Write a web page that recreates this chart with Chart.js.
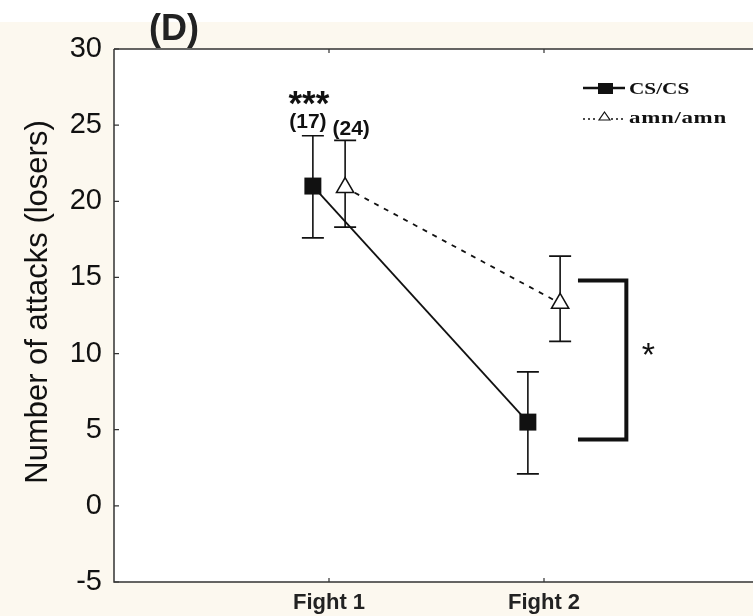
<!DOCTYPE html>
<html><head><meta charset="utf-8">
<script src="https://cdn.jsdelivr.net/npm/chart.js@4.4.1/dist/chart.umd.min.js"></script>
<style>html,body{margin:0;padding:0;overflow:hidden;background:#fcf8ef;width:753px;height:616px}canvas{display:block}</style>
</head><body><canvas id="c" width="775" height="616"></canvas>
<script>
// ---- data ----
const categories = ['Fight 1', 'Fight 2'];
const seriesNames = ['CS/CS', 'amn/amn'];
const csMean  = [21.0, 5.5];
const csUpper = [24.3, 8.8];
const csLower = [17.6, 2.1];
const amnMean  = [20.9, 13.3];
const amnUpper = [24.0, 16.4];
const amnLower = [18.3, 10.8];
const yTicks = [-5, 0, 5, 10, 15, 20, 25, 30];
const sampleSizes = ['(17)', '(24)'];
const sigFight1 = '***';
const sigBetween = '*';
const bracketRange = [4.35, 14.8];
const panelLabel = '(D)';
const yTitle = 'Number of attacks (losers)';

// ---- style ----
const CREAM = '#fcf8ef';
const INK = '#111111';
const OFFSET = 0.075;
const BRACKET_X = [2.158, 2.383];
const SANS = '"Liberation Sans", Arial, sans-serif';
const SERIF = '"Liberation Serif", "Times New Roman", serif';

const series = [
  {mean: csMean, up: csUpper, lo: csLower, off: -OFFSET},
  {mean: amnMean, up: amnUpper, lo: amnLower, off: OFFSET}
];

function pts(s) { return s.mean.map((v, i) => ({x: i + 1 + s.off, y: v})); }

const deco = {
  id: 'deco',
  beforeDraw(chart) {
    const {ctx, chartArea: a} = chart;
    ctx.save();
    ctx.fillStyle = CREAM; ctx.fillRect(0, 0, chart.width, chart.height);
    ctx.fillStyle = '#ffffff'; ctx.fillRect(0, 0, chart.width, 22);
    ctx.fillRect(a.left, a.top, a.right - a.left, a.bottom - a.top);
    ctx.restore();
  },
  beforeDatasetsDraw(chart) {
    const {ctx} = chart, xs = chart.scales.x, ys = chart.scales.y;
    ctx.save();
    ctx.strokeStyle = INK; ctx.lineWidth = 1.6;
    series.forEach(s => {
      s.mean.forEach((m, i) => {
        const x = xs.getPixelForValue(i + 1 + s.off);
        const yh = ys.getPixelForValue(s.up[i]), yl = ys.getPixelForValue(s.lo[i]);
        ctx.beginPath();
        ctx.moveTo(x, yh); ctx.lineTo(x, yl);
        ctx.moveTo(x - 11, yh); ctx.lineTo(x + 11, yh);
        ctx.moveTo(x - 11, yl); ctx.lineTo(x + 11, yl);
        ctx.stroke();
      });
    });
    ctx.restore();
  },
  afterDraw(chart) {
    const {ctx, chartArea: a} = chart, xs = chart.scales.x, ys = chart.scales.y;
    ctx.save();
    // frame
    ctx.strokeStyle = '#333333'; ctx.lineWidth = 1.5;
    ctx.beginPath();
    ctx.moveTo(a.left, a.top); ctx.lineTo(a.left, a.bottom); ctx.lineTo(a.right, a.bottom);
    ctx.moveTo(a.left, a.top); ctx.lineTo(a.right, a.top);
    ctx.stroke();
    // inward ticks
    ctx.lineWidth = 1.2;
    ctx.beginPath();
    yTicks.forEach(v => { const y = ys.getPixelForValue(v); ctx.moveTo(a.left, y); ctx.lineTo(a.left + 5, y); });
    categories.forEach((c, i) => {
      const x = xs.getPixelForValue(i + 1);
      ctx.moveTo(x, a.bottom); ctx.lineTo(x, a.bottom - 4);
      ctx.moveTo(x, a.top); ctx.lineTo(x, a.top + 4);
    });
    ctx.stroke();

    // panel label
    ctx.fillStyle = '#222222';
    ctx.font = 'bold 36px ' + SANS;
    ctx.textAlign = 'center'; ctx.textBaseline = 'alphabetic';
    ctx.fillText(panelLabel, 174, 40);

    // y title
    ctx.save();
    ctx.translate(38, 302); ctx.rotate(-Math.PI / 2);
    ctx.font = '31px ' + SANS; ctx.fillStyle = INK;
    ctx.textAlign = 'center'; ctx.textBaseline = 'middle';
    ctx.fillText(yTitle, 0, 0);
    ctx.restore();

    // significance and n labels
    ctx.fillStyle = INK;
    ctx.font = 'bold 35px ' + SANS;
    ctx.textAlign = 'center'; ctx.textBaseline = 'alphabetic';
    ctx.fillText(sigFight1, xs.getPixelForValue(1 + series[0].off) - 4, 115);
    ctx.font = 'bold 21px ' + SANS;
    ctx.fillText(sampleSizes[0], xs.getPixelForValue(1 + series[0].off) - 5, 128);
    ctx.fillText(sampleSizes[1], xs.getPixelForValue(1 + series[1].off) + 6, 135);

    // bracket
    const bx0 = xs.getPixelForValue(BRACKET_X[0]), bx1 = xs.getPixelForValue(BRACKET_X[1]);
    const by0 = ys.getPixelForValue(bracketRange[1]), by1 = ys.getPixelForValue(bracketRange[0]);
    ctx.strokeStyle = INK; ctx.lineWidth = 4; ctx.lineJoin = 'miter';
    ctx.beginPath();
    ctx.moveTo(bx0, by0); ctx.lineTo(bx1, by0); ctx.lineTo(bx1, by1); ctx.lineTo(bx0, by1);
    ctx.stroke();
    ctx.font = '34px ' + SANS; ctx.textAlign = 'center';
    ctx.fillText(sigBetween, bx1 + 22, (by0 + by1) / 2 + 6);

    // legend
    ctx.strokeStyle = INK; ctx.fillStyle = INK;
    ctx.lineWidth = 2.5;
    ctx.beginPath(); ctx.moveTo(583, 88); ctx.lineTo(625, 88); ctx.stroke();
    ctx.fillRect(598, 83, 15, 11);
    // dotted line + triangle
    ctx.lineWidth = 1.5;
    ctx.setLineDash([2, 3]);
    ctx.beginPath(); ctx.moveTo(583, 119); ctx.lineTo(598, 119); ctx.moveTo(611, 119); ctx.lineTo(626, 119); ctx.stroke();
    ctx.setLineDash([]);
    ctx.lineWidth = 1.2;
    ctx.beginPath(); ctx.moveTo(604.5, 112); ctx.lineTo(610, 120); ctx.lineTo(599, 120); ctx.closePath(); ctx.stroke();
    ctx.font = 'bold 17px ' + SERIF;
    ctx.textAlign = 'left'; ctx.textBaseline = 'alphabetic';
    ctx.save(); ctx.translate(629, 94); ctx.scale(1.25, 1); ctx.fillText(seriesNames[0], 0, 0); ctx.restore();
    ctx.save(); ctx.letterSpacing = '0.5px'; ctx.translate(629, 123); ctx.scale(1.35, 1); ctx.fillText(seriesNames[1], 0, 0); ctx.restore();
    ctx.restore();
  }
};

new Chart(document.getElementById('c'), {
  type: 'scatter',
  data: {
    datasets: [
      {
        label: seriesNames[0], data: pts(series[0]), showLine: true,
        borderColor: INK, borderWidth: 1.8, backgroundColor: INK,
        pointStyle: 'rect', pointRadius: 12, pointBackgroundColor: INK, pointBorderColor: INK, pointBorderWidth: 0
      },
      {
        label: seriesNames[1], data: pts(series[1]), showLine: true,
        borderColor: INK, borderWidth: 1.8, borderDash: [5, 6], backgroundColor: '#ffffff',
        pointStyle: 'triangle', pointRadius: 10, pointBackgroundColor: '#ffffff', pointBorderColor: INK, pointBorderWidth: 1.5
      }
    ]
  },
  options: {
    responsive: false, animation: false,
    layout: {padding: {top: 49, right: 16, left: 0, bottom: 0}},
    plugins: {legend: {display: false}, tooltip: {enabled: false}},
    scales: {
      x: {
        type: 'linear', min: 0, max: 3,
        afterBuildTicks: s => { s.ticks = categories.map((c, i) => ({value: i + 1})); },
        afterFit: s => { s.height = 34; },
        grid: {display: false, drawTicks: false},
        border: {display: false},
        ticks: {
          callback: v => categories[v - 1] || '',
          font: {family: SANS, size: 22, weight: 'bold'}, color: '#222222', padding: 8
        }
      },
      y: {
        type: 'linear', min: -5, max: 30,
        afterBuildTicks: s => { s.ticks = yTicks.map(v => ({value: v})); },
        afterFit: s => { s.width = 114; },
        grid: {display: false, drawTicks: false},
        border: {display: false},
        ticks: {font: {family: SANS, size: 29}, color: INK, padding: 12}
      }
    }
  },
  plugins: [deco]
});
</script>
</body></html>
